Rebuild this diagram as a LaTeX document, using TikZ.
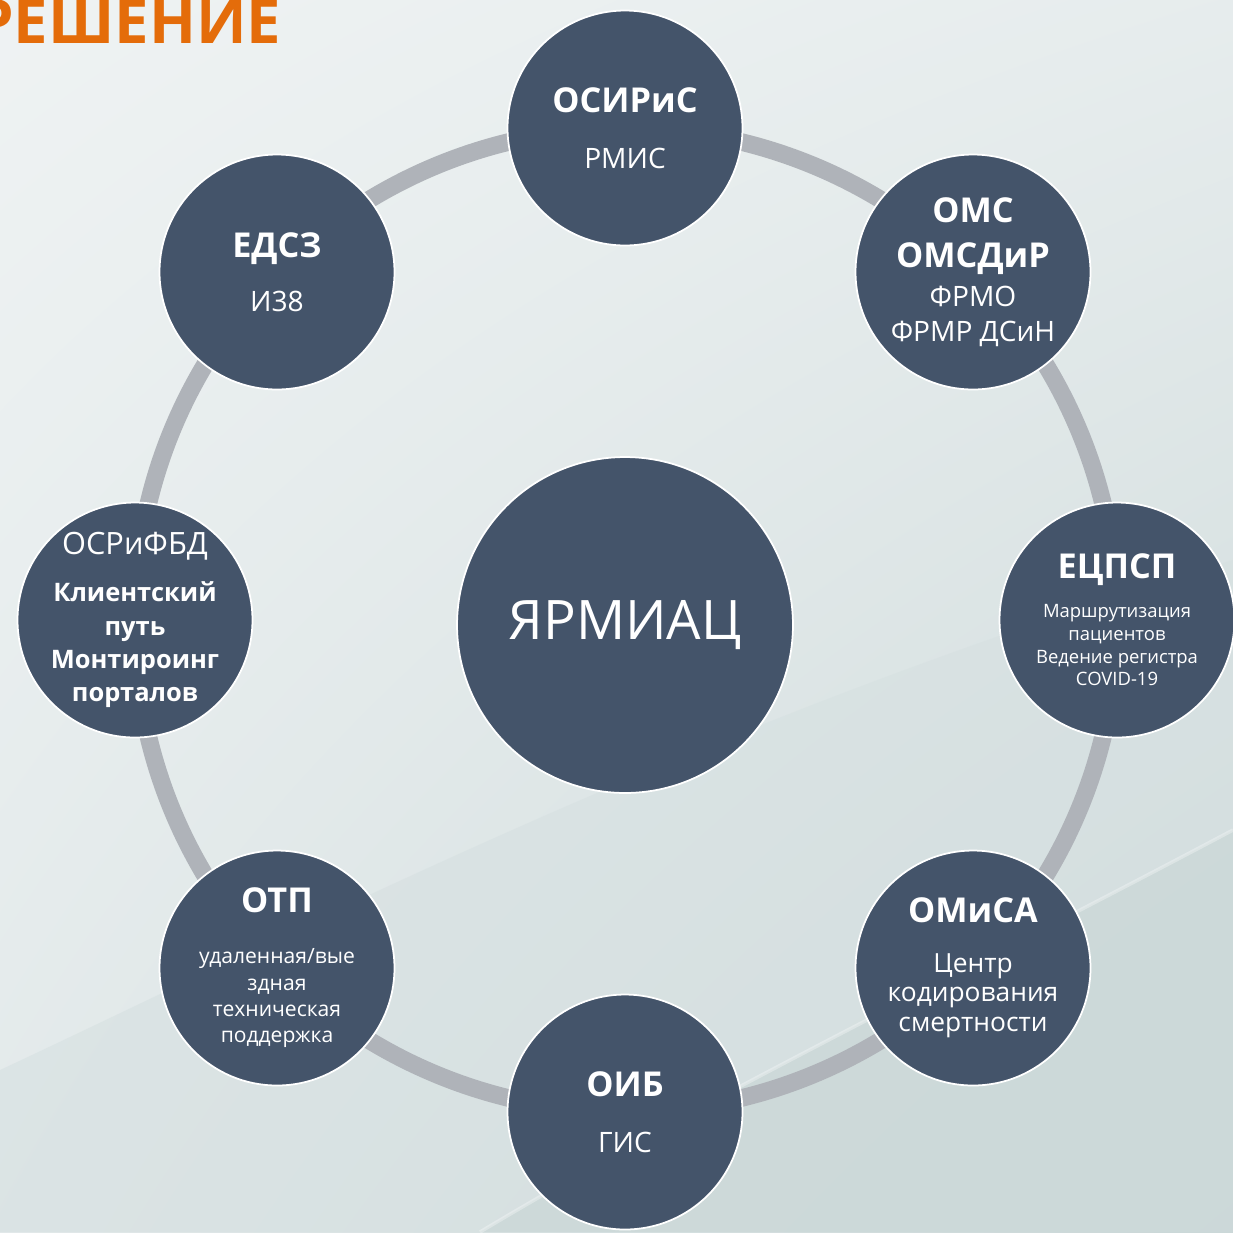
\documentclass[tikz,border=0pt]{standalone}
\usepackage{fontspec}
\setmainfont{Open Sans}
\usetikzlibrary{backgrounds,shadings}
\definecolor{slate}{HTML}{44546A}
\definecolor{ringgray}{HTML}{AFB3B9}
\definecolor{titleorange}{HTML}{E46C0A}
\definecolor{bgmid}{HTML}{D6E0E1}
\definecolor{bglow}{HTML}{CBD8D8}
\tikzstyle{hub}=[circle, draw=white, line width=1pt, fill=slate, text=white, minimum size=6.72cm, font=\fontsize{31}{36}\selectfont]
\tikzstyle{sat}=[circle, draw=white, line width=1pt, fill=slate, text=white, minimum size=4.7cm, inner sep=0pt, align=center, font=\fontsize{16}{20}\selectfont]
\tikzstyle{ring}=[draw=ringgray, line width=10pt]
\tikzstyle{title}=[anchor=base west, inner sep=0pt, text=titleorange, font=\fontsize{35}{40}\selectfont\bfseries]
\newcommand{\satname}{\fontsize{19.5}{24}\selectfont\bfseries}

\begin{document}
\begin{tikzpicture}[x=0.02cm, y=-0.02cm]
	\useasboundingbox (0,0) rectangle (1233,1232);
	\node[title] (heading) at (-25,43) {РЕШЕНИЕ};

	\node[hub] (yarmiac) at (625,625) {ЯРМИАЦ};
	\node[sat] (osiris) at (625,128) {{\satname ОСИРиС}\\[12pt]РМИС};
	\node[sat] (oms) at (973,272) {{\satname ОМС}\\[6pt]{\satname ОМСДиР}\\[2pt]ФРМО\\ФРМР ДСиН};
	\node[sat, font=\fontsize{10.5}{13}\selectfont] (ecpsp) at (1117,620) {{\satname ЕЦПСП}\\[9pt]Маршрутизация\\пациентов\\Ведение регистра\\COVID-19};
	\node[sat, font=\fontsize{15}{17}\selectfont] (omisa) at (973,968) {{\satname ОМиСА}\\[11pt]Центр\\кодирования\\смертности};
	\node[sat] (oib) at (625,1112) {{\satname ОИБ}\\[12pt]ГИС};
	\node[sat, font=\fontsize{12}{15}\selectfont] (otp) at (277,968) {{\satname ОТП}\\[14pt]удаленная/вые\\здная\\техническая\\поддержка};
	\node[sat, inner sep=-12pt, font=\fontsize{14.5}{19}\selectfont\bfseries] (osrifbd) at (135,620) {{\fontsize{17.5}{21}\selectfont\mdseries ОСРиФБД}\\[8pt]Клиентский\\путь\\Монтироинг\\порталов};
	\node[sat] (edsz) at (277,272) {{\satname ЕДСЗ}\\[11pt]И38};

	\begin{scope}[on background layer]
		\clip (0,0) rectangle (1233,1232);
		\shade[upper left=white!60!bgmid, upper right=white!40!bgmid, lower left=white!30!bgmid, lower right=bglow] (0,0) rectangle (1233,1232);
		\fill[bgmid, opacity=0.6] (0,1070) .. controls (300,930) and (700,720) .. (1233,560) -- (1233,1232) -- (0,1232) -- cycle;
		\fill[bglow, opacity=0.8] (480,1232) .. controls (700,1100) and (950,980) .. (1233,830) -- (1233,1232) -- cycle;
		\draw[white, opacity=0.3, line width=2pt] (480,1232) .. controls (700,1100) and (950,980) .. (1233,830);
		\foreach \a/\b in {osiris/oms, oms/ecpsp, ecpsp/omisa, omisa/oib, oib/otp, otp/osrifbd, osrifbd/edsz, edsz/osiris}
			\draw[ring] (\a.center) to[bend left=22.5, looseness=0.885] (\b.center);
	\end{scope}
\end{tikzpicture}
\end{document}
